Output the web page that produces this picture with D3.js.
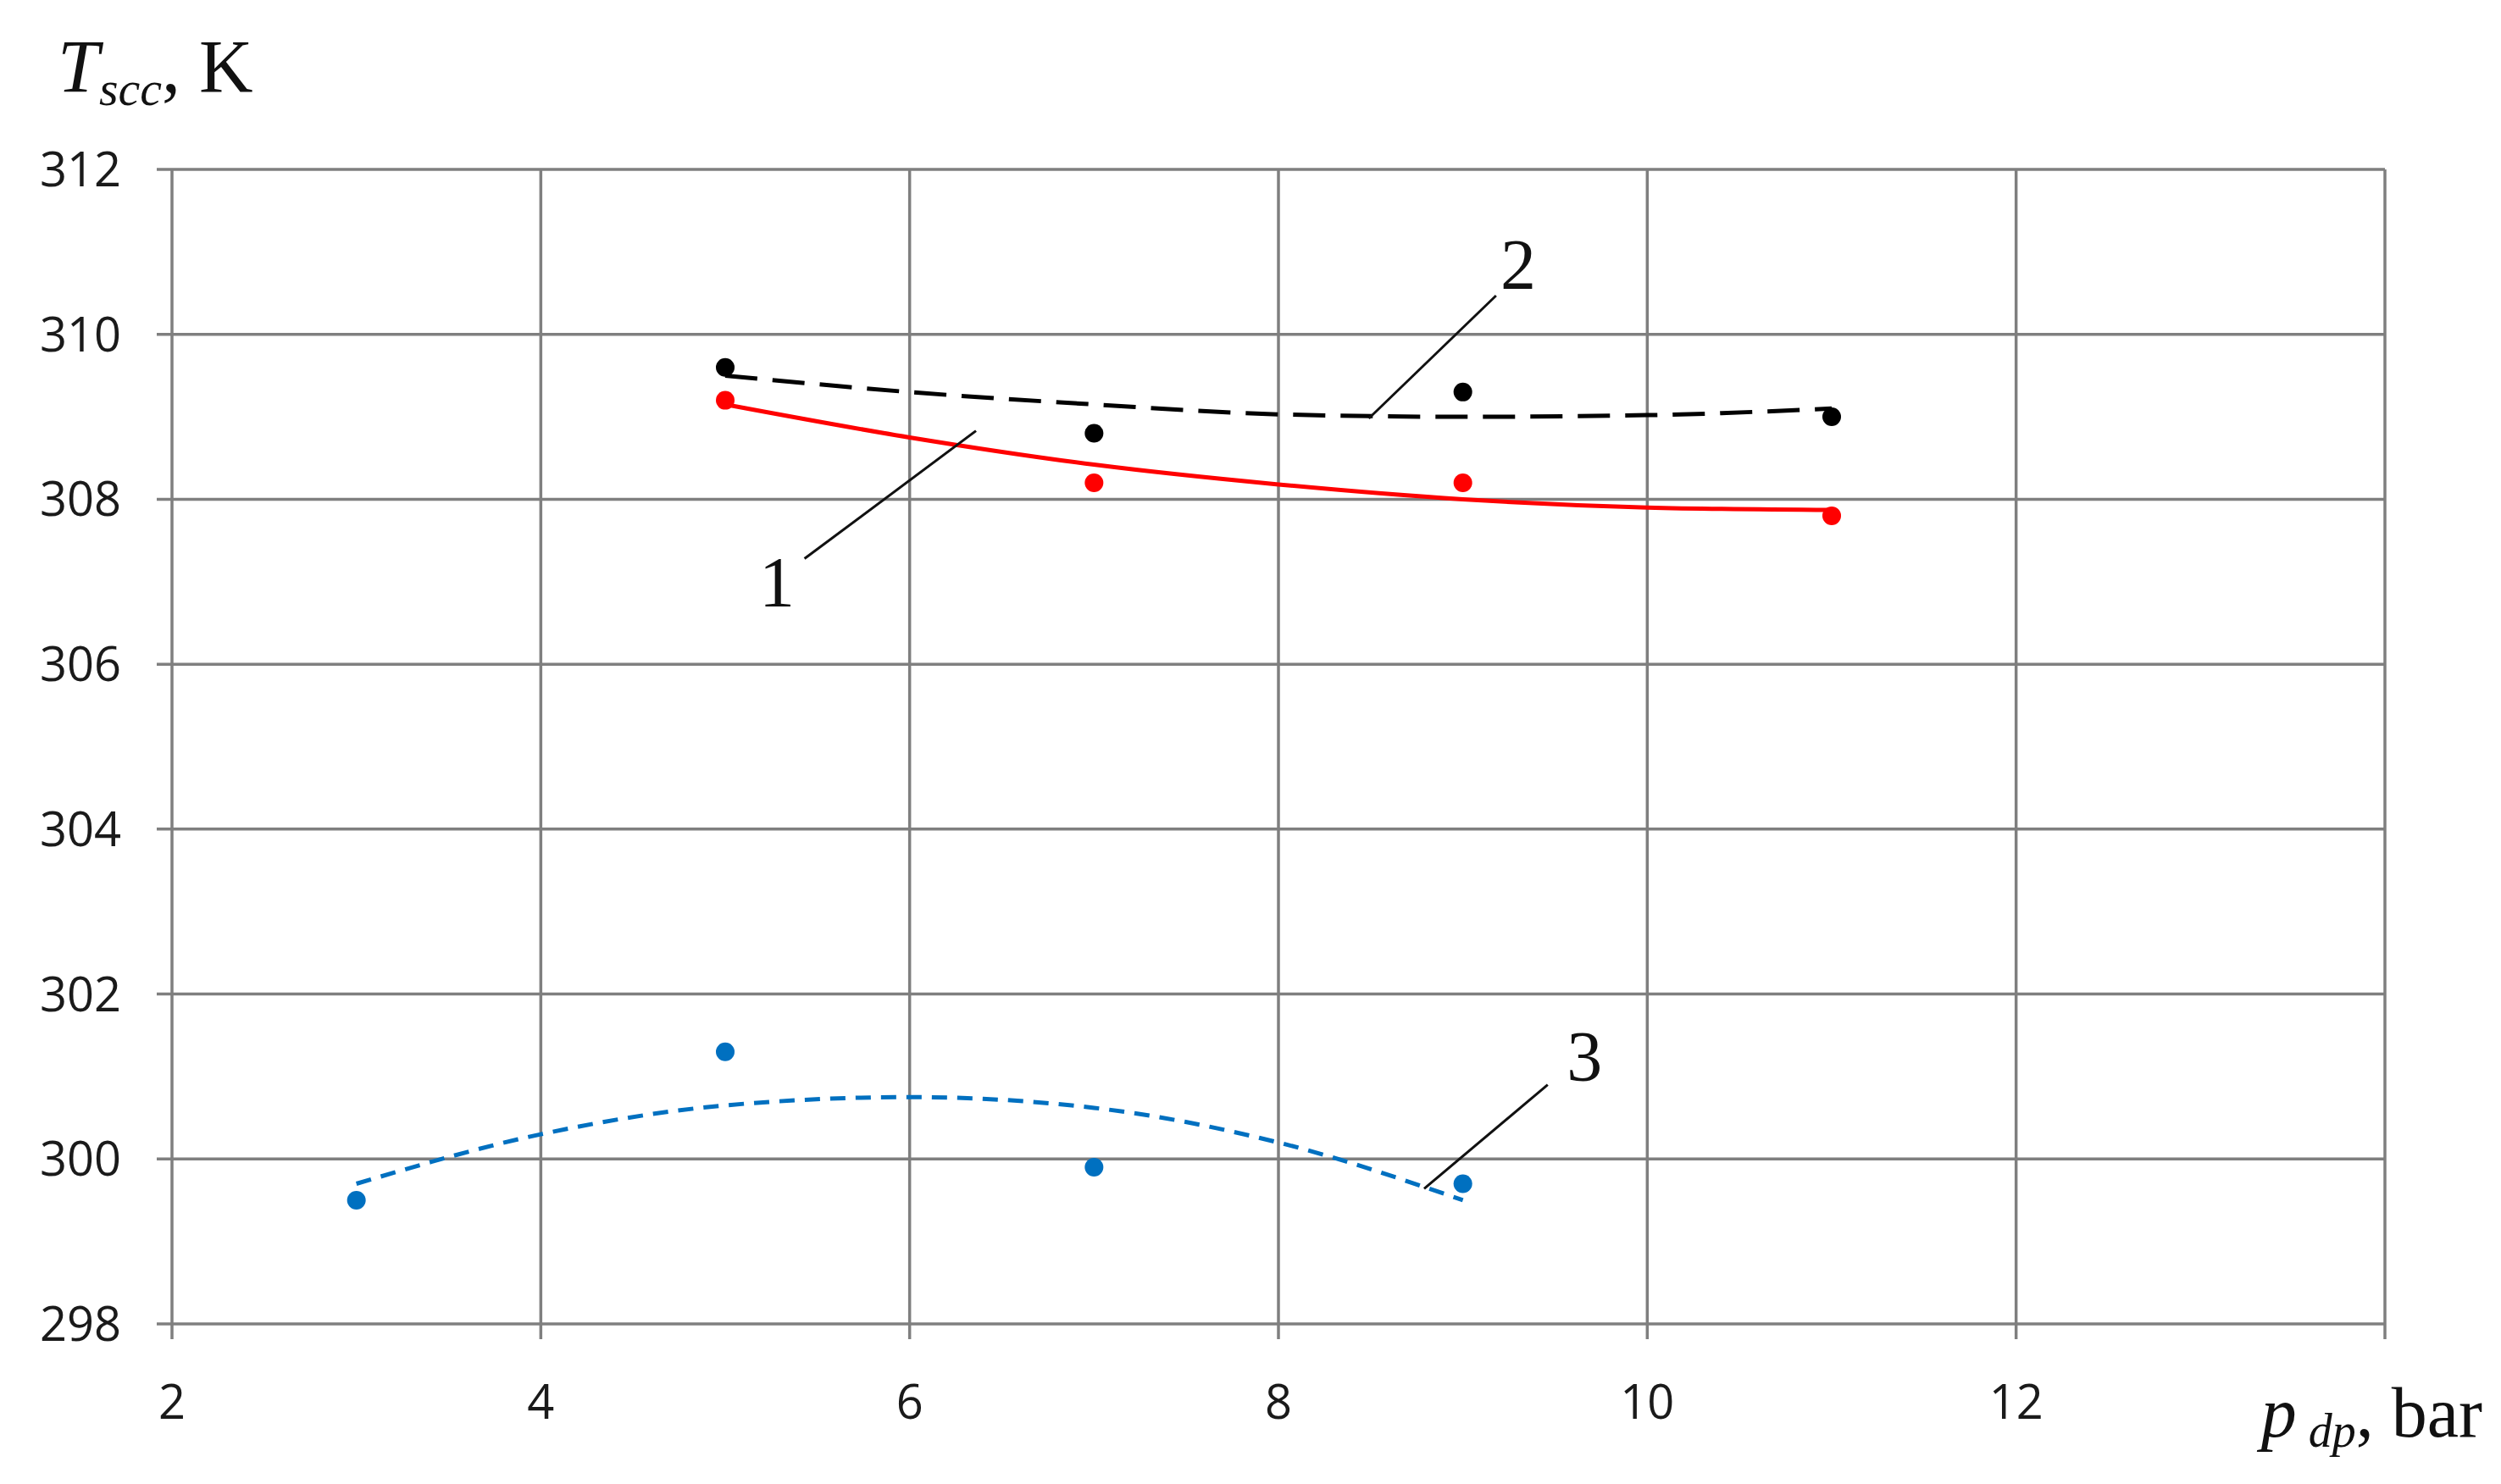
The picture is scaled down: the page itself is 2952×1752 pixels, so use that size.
<!DOCTYPE html>
<html><head><meta charset="utf-8">
<script src="https://cdn.jsdelivr.net/npm/d3@7"></script>
<style>body{margin:0;background:#fff}svg{display:block}</style>
</head><body>
<svg id="chart" width="2952" height="1752"></svg>
<script>
// measured points
const pressure = [3, 5, 7, 9, 11];
const curve1Pts = [null, 309.2, 308.2, 308.2, 307.8];
const curve2Pts = [null, 309.6, 308.8, 309.3, 309.0];
const curve3Pts = [299.5, 301.3, 299.9, 299.7, null];

// trend lines
const trendX1 = [5, 6, 7, 8, 9, 10, 11];
const trend1 = [309.15, 308.75, 308.42, 308.18, 308.0, 307.9, 307.87];
const trendX2 = [5, 6, 7, 8, 9, 10, 11];
const trend2 = [309.5, 309.3, 309.15, 309.03, 309.0, 309.02, 309.1];
const trendX3 = [3, 4, 5, 6, 7, 8, 9];
const trend3 = [299.7, 300.3, 300.65, 300.75, 300.62, 300.2, 299.5];

const xTicks = [2, 4, 6, 8, 10, 12, 14];
const yTicks = [298, 300, 302, 304, 306, 308, 310, 312];

var margin = {top: 200, right: 137, bottom: 189, left: 203},
    width = 2952 - margin.left - margin.right,
    height = 1752 - margin.top - margin.bottom;

var svg = d3.select("#chart").append("g")
  .attr("transform", "translate(" + margin.left + "," + margin.top + ")");

var x = d3.scaleLinear().domain([2, 14]).range([0, width]);
var y = d3.scaleLinear().domain([298, 312]).range([height, 0]);

// grid
svg.append("g").selectAll("line").data(xTicks).enter().append("line")
  .attr("x1", d => x(d)).attr("x2", d => x(d)).attr("y1", 0).attr("y2", height + 18)
  .attr("stroke", "#7f7f7f").attr("stroke-width", 3.5);
svg.append("g").selectAll("line").data(yTicks).enter().append("line")
  .attr("x1", -18).attr("x2", width).attr("y1", d => y(d)).attr("y2", d => y(d))
  .attr("stroke", "#7f7f7f").attr("stroke-width", 3.5);

// tick labels
svg.append("g").selectAll("text").data(xTicks.slice(0, 6)).enter().append("text")
  .attr("x", d => x(d)).attr("y", height + 112).attr("text-anchor", "middle")
  .style("font", "56px 'Open Sans', 'Liberation Sans', Arial").style("fill", "#1a1a1a").text(d => d);
svg.append("g").selectAll("text").data(yTicks).enter().append("text")
  .attr("x", -60).attr("y", d => y(d) + 20).attr("text-anchor", "end")
  .style("font", "56px 'Open Sans', 'Liberation Sans', Arial").style("fill", "#1a1a1a").text(d => d);

// axis titles
var serif = "'Liberation Serif', 'Times New Roman', serif";
var yt = d3.select("#chart").append("text").attr("x", 68).attr("y", 108)
  .style("font-family", serif).style("font-size", "88px").style("fill", "#111");
yt.append("tspan").style("font-style", "italic").text("T");
yt.append("tspan").style("font-style", "italic").style("font-size", "58px").attr("dy", 16).text("scc");
yt.append("tspan").attr("dy", -16).text(", K");

var xt = d3.select("#chart").append("text").attr("x", 2930).attr("y", 1696).attr("text-anchor", "end")
  .style("font-family", serif).style("font-size", "84px").style("fill", "#111");
xt.append("tspan").style("font-style", "italic").text("p");
xt.append("tspan").style("font-style", "italic").style("font-size", "56px").attr("dy", 12).text(" dp");
xt.append("tspan").attr("dy", -12).text(", bar");

// trend lines
var line = d3.line().curve(d3.curveMonotoneX).x(d => x(d[0])).y(d => y(d[1]));
svg.append("path").datum(d3.zip(trendX1, trend1)).attr("d", line)
  .attr("fill", "none").attr("stroke", "#ff0000").attr("stroke-width", 5);
svg.append("path").datum(d3.zip(trendX2, trend2)).attr("d", line)
  .attr("fill", "none").attr("stroke", "#000").attr("stroke-width", 5).attr("stroke-dasharray", "38,18");
svg.append("path").datum(d3.zip(trendX3, trend3)).attr("d", line)
  .attr("fill", "none").attr("stroke", "#0070c0").attr("stroke-width", 5).attr("stroke-dasharray", "18,12");

// points
function dots(vals, color) {
  svg.append("g").selectAll("circle").data(d3.zip(pressure, vals).filter(d => d[1] != null))
    .enter().append("circle")
    .attr("cx", d => x(d[0])).attr("cy", d => y(d[1])).attr("r", 11).attr("fill", color);
}
dots(curve2Pts, "#000");
dots(curve1Pts, "#ff0000");
dots(curve3Pts, "#0070c0");

// curve labels with leader lines
const labels = [
  {t: "1", from: [5.43, 307.28], to: [6.36, 308.83], at: [5.28, 306.7]},
  {t: "2", from: [8.49, 308.98], to: [9.18, 310.47], at: [9.3, 310.55]},
  {t: "3", from: [8.79, 299.64], to: [9.46, 300.9], at: [9.66, 300.95]}
];
labels.forEach(function(l) {
  svg.append("line").attr("x1", x(l.from[0])).attr("y1", y(l.from[1]))
    .attr("x2", x(l.to[0])).attr("y2", y(l.to[1])).attr("stroke", "#111").attr("stroke-width", 3);
  svg.append("text").attr("x", x(l.at[0])).attr("y", y(l.at[1])).attr("text-anchor", "middle")
    .style("font-family", serif).style("font-size", "84px").style("fill", "#111").text(l.t);
});
</script>
</body></html>
